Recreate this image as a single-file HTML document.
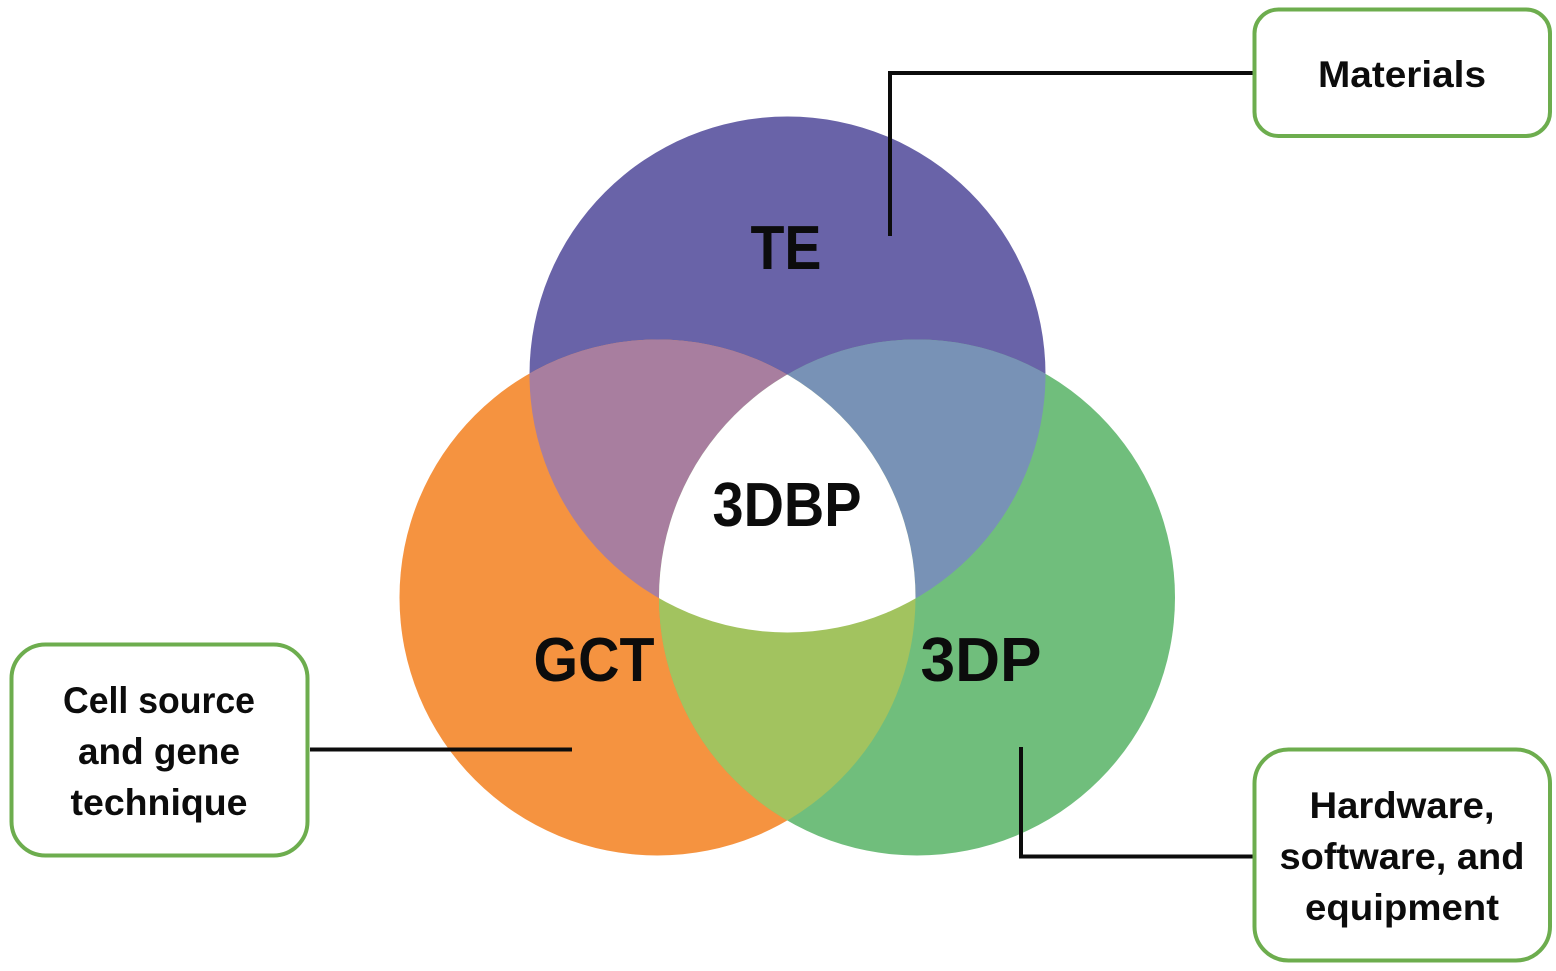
<!DOCTYPE html>
<html><head><meta charset="utf-8"><style>
html,body{margin:0;padding:0;background:#fff;width:1556px;height:971px;overflow:hidden}
svg{display:block}
text{font-family:"Liberation Sans",sans-serif;font-weight:bold;fill:#0c0c0c;text-anchor:middle}
.s{font-size:37px}
.l{font-size:62px}
</style></head><body>
<svg width="1556" height="971" viewBox="0 0 1556 971" xmlns="http://www.w3.org/2000/svg">
<defs>
<clipPath id="cT"><circle cx="787.5" cy="374.5" r="258"/></clipPath>
<clipPath id="cL"><circle cx="657.5" cy="597.5" r="258"/></clipPath>
<clipPath id="cR"><circle cx="917" cy="597.5" r="258"/></clipPath>
</defs>
<circle cx="787.5" cy="374.5" r="258" fill="#6963A8"/>
<circle cx="657.5" cy="597.5" r="258" fill="#F59340"/>
<circle cx="917" cy="597.5" r="258" fill="#70BE7C"/>
<g clip-path="url(#cT)"><circle cx="657.5" cy="597.5" r="258" fill="#A87E9F"/></g>
<g clip-path="url(#cT)"><circle cx="917" cy="597.5" r="258" fill="#7892B6"/></g>
<g clip-path="url(#cL)"><circle cx="917" cy="597.5" r="258" fill="#A2C35F"/></g>
<g clip-path="url(#cT)"><g clip-path="url(#cL)"><circle cx="917" cy="597.5" r="258" fill="#fff"/></g></g>

<path d="M890 236V73H1254" fill="none" stroke="#0c0c0c" stroke-width="4"/>
<path d="M310 749.5H572" fill="none" stroke="#0c0c0c" stroke-width="4"/>
<path d="M1021 747V856.5H1254" fill="none" stroke="#0c0c0c" stroke-width="4"/>

<rect x="1254.5" y="9.5" width="295.5" height="126.5" rx="24" fill="#fff" stroke="#6DAD4E" stroke-width="4"/>
<rect x="11.5" y="644.5" width="296" height="211" rx="34" fill="#fff" stroke="#6DAD4E" stroke-width="4"/>
<rect x="1254.5" y="749.5" width="295.5" height="211" rx="34" fill="#fff" stroke="#6DAD4E" stroke-width="4"/>

<text class="l" x="786" y="269" textLength="71" lengthAdjust="spacingAndGlyphs">TE</text>
<text class="l" x="787" y="526" textLength="149" lengthAdjust="spacingAndGlyphs">3DBP</text>
<text class="l" x="594" y="681" textLength="121" lengthAdjust="spacingAndGlyphs">GCT</text>
<text class="l" x="981" y="681" textLength="121" lengthAdjust="spacingAndGlyphs">3DP</text>

<text class="s" x="1402" y="87" textLength="168" lengthAdjust="spacingAndGlyphs">Materials</text>

<text class="s" x="159" y="713" textLength="192" lengthAdjust="spacingAndGlyphs">Cell source</text>
<text class="s" x="159" y="764" textLength="162" lengthAdjust="spacingAndGlyphs">and gene</text>
<text class="s" x="159" y="815" textLength="177" lengthAdjust="spacingAndGlyphs">technique</text>

<text class="s" x="1402" y="818" textLength="185" lengthAdjust="spacingAndGlyphs">Hardware,</text>
<text class="s" x="1402" y="869" textLength="245" lengthAdjust="spacingAndGlyphs">software, and</text>
<text class="s" x="1402" y="920" textLength="194" lengthAdjust="spacingAndGlyphs">equipment</text>
</svg>
</body></html>
